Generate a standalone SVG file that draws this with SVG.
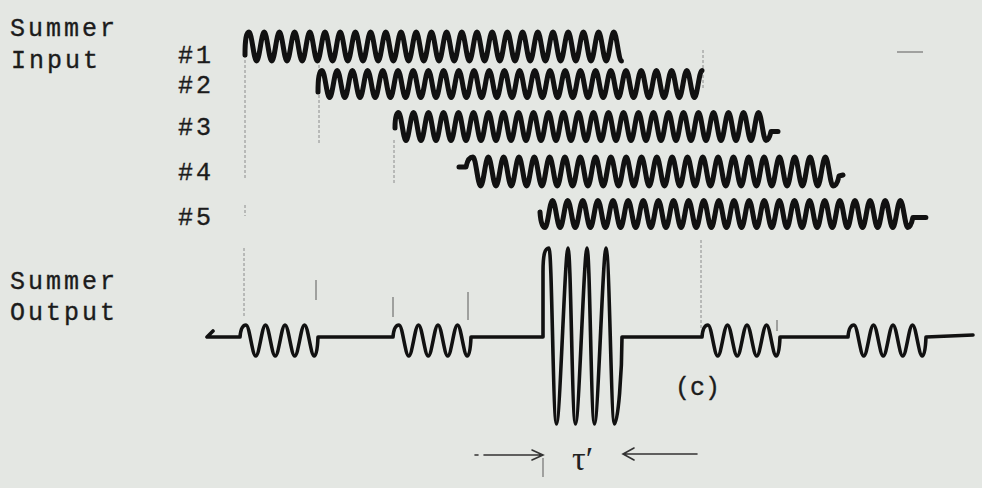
<svg xmlns="http://www.w3.org/2000/svg" width="982" height="488" viewBox="0 0 982 488">
<defs>
<style>
.lbl{font-family:"Liberation Mono","Courier New",monospace;font-size:25px;letter-spacing:3px;fill:#1c1c1c;stroke:#1c1c1c;stroke-width:0.35}
.wave{fill:none;stroke:#111;stroke-width:5;stroke-linecap:round;stroke-linejoin:round}
.out{fill:none;stroke:#111;stroke-width:3.6;stroke-linecap:round;stroke-linejoin:round}
.guide{fill:none;stroke:#666;stroke-width:1;stroke-dasharray:3 2;opacity:0.7}
.tick{fill:none;stroke:#555;stroke-width:1.2;opacity:0.8}
.arr{fill:none;stroke:#333;stroke-width:1.6;stroke-linecap:round}
</style>
</defs>
<rect width="982" height="488" fill="#e4e7e3"/>

<g id="labels">
<text class="lbl" x="10" y="36">Summer</text>
<text class="lbl" x="11" y="68">Input</text>
<text class="lbl" x="178" y="63">#1</text>
<text class="lbl" x="178" y="93">#2</text>
<text class="lbl" x="178" y="135">#3</text>
<text class="lbl" x="178" y="180">#4</text>
<text class="lbl" x="178" y="225">#5</text>
<text class="lbl" x="10" y="289">Summer</text>
<text class="lbl" x="10" y="320">Output</text>
<text class="lbl" x="675" y="395" style="letter-spacing:0">(c)</text>
<text x="572" y="470" style="font-family:'Liberation Serif','DejaVu Serif',serif;font-size:34px;fill:#222">τ′</text>
</g>

<g id="guides">
<path class="guide" d="M245,50 V180 M245,205 V216 M244,248 V318"/>
<path class="guide" d="M319,60 V145"/>
<path class="guide" d="M394,140 V184"/>
<path class="guide" d="M703,50 V90 M701,240 V330"/>
<path class="tick" d="M316,280 V300 M393,297 V317 M468,292 V320 M777,320 V331"/>
<path class="tick" d="M897,52 H923"/>
</g>

<g id="input-1">
<path class="wave" d="M245,55 Q245,32 249,32 c2.77,0 4.83,29 7.6,29 s
4.83,-29 7.6,-29 4.83,29 7.6,29 4.83,-29 7.6,-29 4.83,29 7.6,29 4.83,-29 7.6,-29 4.83,29 7.6,29 4.83,-29 7.6,-29 4.83,29 7.6,29
4.83,-29 7.6,-29 4.83,29 7.6,29 4.83,-29 7.6,-29 4.83,29 7.6,29 4.83,-29 7.6,-29 4.83,29 7.6,29 4.83,-29 7.6,-29 4.83,29 7.6,29
4.83,-29 7.6,-29 4.83,29 7.6,29 4.83,-29 7.6,-29 4.83,29 7.6,29 4.83,-29 7.6,-29 4.83,29 7.6,29 4.83,-29 7.6,-29 4.83,29 7.6,29
4.83,-29 7.6,-29 4.83,29 7.6,29 4.83,-29 7.6,-29 4.83,29 7.6,29 4.83,-29 7.6,-29 4.83,29 7.6,29 4.83,-29 7.6,-29 4.83,29 7.6,29
4.83,-29 7.6,-29 4.83,29 7.6,29 4.83,-29 7.6,-29 4.83,29 7.6,29 4.83,-29 7.6,-29 4.83,29 7.6,29 4.83,-29 7.6,-29 4.83,29 7.6,29
4.83,-29 7.6,-29 4.83,29 7.6,29 4.83,-29 7.6,-29 4.83,29 7.6,29 4.83,-29 7.6,-29 4.83,29 7.6,29 4.83,-29 7.6,-29 4.83,29 7.6,29"/>
</g>

<g id="input-2">
<path class="wave" d="M318,92 Q318,70.5 322,70.5 c2.77,0 4.83,27 7.6,27 s
4.83,-27 7.6,-27 4.83,27 7.6,27 4.83,-27 7.6,-27 4.83,27 7.6,27 4.83,-27 7.6,-27 4.83,27 7.6,27 4.83,-27 7.6,-27 4.83,27 7.6,27
4.83,-27 7.6,-27 4.83,27 7.6,27 4.83,-27 7.6,-27 4.83,27 7.6,27 4.83,-27 7.6,-27 4.83,27 7.6,27 4.83,-27 7.6,-27 4.83,27 7.6,27
4.83,-27 7.6,-27 4.83,27 7.6,27 4.83,-27 7.6,-27 4.83,27 7.6,27 4.83,-27 7.6,-27 4.83,27 7.6,27 4.83,-27 7.6,-27 4.83,27 7.6,27
4.83,-27 7.6,-27 4.83,27 7.6,27 4.83,-27 7.6,-27 4.83,27 7.6,27 4.83,-27 7.6,-27 4.83,27 7.6,27 4.83,-27 7.6,-27 4.83,27 7.6,27
4.83,-27 7.6,-27 4.83,27 7.6,27 4.83,-27 7.6,-27 4.83,27 7.6,27 4.83,-27 7.6,-27 4.83,27 7.6,27 4.83,-27 7.6,-27 4.83,27 7.6,27
4.83,-27 7.6,-27 4.83,27 7.6,27 4.83,-27 7.6,-27 4.83,27 7.6,27 4.83,-27 7.6,-27 4.83,27 7.6,27 4.83,-27 7.6,-27 4.83,27 7.6,27
4.83,-27 7.6,-27"/>
</g>

<g id="input-3">
<path class="wave" d="M395,128 Q395,112.5 398.5,112.5 c2.73,0 4.77,28 7.5,28 s
4.77,-28 7.5,-28 4.77,28 7.5,28 4.77,-28 7.5,-28 4.77,28 7.5,28 4.77,-28 7.5,-28 4.77,28 7.5,28 4.77,-28 7.5,-28 4.77,28 7.5,28
4.77,-28 7.5,-28 4.77,28 7.5,28 4.77,-28 7.5,-28 4.77,28 7.5,28 4.77,-28 7.5,-28 4.77,28 7.5,28 4.77,-28 7.5,-28 4.77,28 7.5,28
4.77,-28 7.5,-28 4.77,28 7.5,28 4.77,-28 7.5,-28 4.77,28 7.5,28 4.77,-28 7.5,-28 4.77,28 7.5,28 4.77,-28 7.5,-28 4.77,28 7.5,28
4.77,-28 7.5,-28 4.77,28 7.5,28 4.77,-28 7.5,-28 4.77,28 7.5,28 4.77,-28 7.5,-28 4.77,28 7.5,28 4.77,-28 7.5,-28 4.77,28 7.5,28
4.77,-28 7.5,-28 4.77,28 7.5,28 4.77,-28 7.5,-28 4.77,28 7.5,28 4.77,-28 7.5,-28 4.77,28 7.5,28 4.77,-28 7.5,-28 4.77,28 7.5,28
4.77,-28 7.5,-28 4.77,28 7.5,28 4.77,-28 7.5,-28 4.77,28 7.5,28 4.77,-28 7.5,-28 4.77,28 7.5,28 4.77,-28 7.5,-28 4.77,28 7.5,28
q3,0 5,-9 l7,0"/>
</g>

<g id="input-4">
<path class="wave" d="M459,167 L466,167 Q468,157 473,157 c2.79,0 4.87,29 7.66,29 s
4.87,-29 7.66,-29 4.87,29 7.66,29 4.87,-29 7.66,-29 4.87,29 7.66,29 4.87,-29 7.66,-29 4.87,29 7.66,29 4.87,-29 7.66,-29 4.87,29 7.66,29
4.87,-29 7.66,-29 4.87,29 7.66,29 4.87,-29 7.66,-29 4.87,29 7.66,29 4.87,-29 7.66,-29 4.87,29 7.66,29 4.87,-29 7.66,-29 4.87,29 7.66,29
4.87,-29 7.66,-29 4.87,29 7.66,29 4.87,-29 7.66,-29 4.87,29 7.66,29 4.87,-29 7.66,-29 4.87,29 7.66,29 4.87,-29 7.66,-29 4.87,29 7.66,29
4.87,-29 7.66,-29 4.87,29 7.66,29 4.87,-29 7.66,-29 4.87,29 7.66,29 4.87,-29 7.66,-29 4.87,29 7.66,29 4.87,-29 7.66,-29 4.87,29 7.66,29
4.87,-29 7.66,-29 4.87,29 7.66,29 4.87,-29 7.66,-29 4.87,29 7.66,29 4.87,-29 7.66,-29 4.87,29 7.66,29 4.87,-29 7.66,-29 4.87,29 7.66,29
4.87,-29 7.66,-29 4.87,29 7.66,29 4.87,-29 7.66,-29 4.87,29 7.66,29 4.87,-29 7.66,-29 4.87,29 7.66,29
q4,0 6,-10 l4,-1"/>
</g>

<g id="input-5">
<path class="wave" d="M540,212 Q541,227.5 545,227.5 c2.75,0 4.81,-27 7.56,-27 s
4.81,27 7.56,27 4.81,-27 7.56,-27 4.81,27 7.56,27 4.81,-27 7.56,-27 4.81,27 7.56,27 4.81,-27 7.56,-27 4.81,27 7.56,27 4.81,-27 7.56,-27
4.81,27 7.56,27 4.81,-27 7.56,-27 4.81,27 7.56,27 4.81,-27 7.56,-27 4.81,27 7.56,27 4.81,-27 7.56,-27 4.81,27 7.56,27 4.81,-27 7.56,-27
4.81,27 7.56,27 4.81,-27 7.56,-27 4.81,27 7.56,27 4.81,-27 7.56,-27 4.81,27 7.56,27 4.81,-27 7.56,-27 4.81,27 7.56,27 4.81,-27 7.56,-27
4.81,27 7.56,27 4.81,-27 7.56,-27 4.81,27 7.56,27 4.81,-27 7.56,-27 4.81,27 7.56,27 4.81,-27 7.56,-27 4.81,27 7.56,27 4.81,-27 7.56,-27
4.81,27 7.56,27 4.81,-27 7.56,-27 4.81,27 7.56,27 4.81,-27 7.56,-27 4.81,27 7.56,27 4.81,-27 7.56,-27 4.81,27 7.56,27 4.81,-27 7.56,-27
4.81,27 7.56,27 4.81,-27 7.56,-27 4.81,27 7.56,27 4.81,-27 7.56,-27 4.81,27 7.56,27 4.81,-27 7.56,-27
4.81,27 7.56,27
q3,0 5,-10 l13,0"/>
</g>

<g id="output">
<path class="out" d="M213,331 L207,337 L240,337
q1,-12 6,-12 c3.5,0 6.25,31 9.75,31 s6.25,-31 9.75,-31 6.25,31 9.75,31 6.25,-31 9.75,-31 6.25,31 9.75,31 6.25,-31 9.75,-31 6.25,31 9.75,31 q3,0 3.75,-19
L393,337
q1,-12 6,-12 c3.5,0 6.25,31 9.75,31 s6.25,-31 9.75,-31 6.25,31 9.75,31 6.25,-31 9.75,-31 6.25,31 9.75,31 6.25,-31 9.75,-31 6.25,31 9.75,31 q3,0 3.75,-19
L543,337 L543,272 C543,254 545,248 549,248 C552,248 553,424 556.5,424 C560,424 565,248 568,248 C571,248 572,424 575.5,424 C579,424 584,248 587,248 C590,248 591,424 594.5,424 C598,424 603,248 606,248 C609.5,248 611,424 614.5,424 C618,424 622,372 622,337
L702,337
q1,-12 6,-12 c3.5,0 6.25,31 9.75,31 s6.25,-31 9.75,-31 6.25,31 9.75,31 6.25,-31 9.75,-31 6.25,31 9.75,31 6.25,-31 9.75,-31 6.25,31 9.75,31 q3,0 3.75,-19
L848,337
q1,-12 6,-12 c3.5,0 6.25,31 9.75,31 s6.25,-31 9.75,-31 6.25,31 9.75,31 6.25,-31 9.75,-31 6.25,31 9.75,31 6.25,-31 9.75,-31 6.25,31 9.75,31 q3,0 3.75,-19
L973,335"/>
</g>

<g id="tau-span">
<path class="arr" d="M475,455 H478 M484,455 H542 M532,450 L543,455 L532,460"/>
<path class="arr" d="M697,454 H624 M634,448 L623,454 L634,460"/>
<path class="tick" d="M543,458 V477"/>
</g>
</svg>
